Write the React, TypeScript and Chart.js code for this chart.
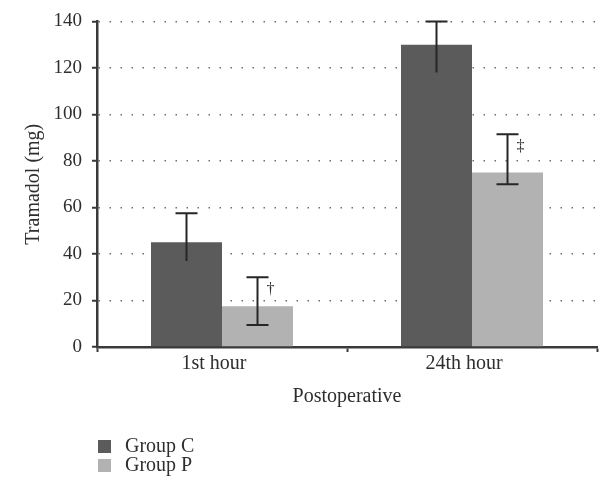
import React, { useEffect, useRef } from 'react';
import { Chart, registerables } from 'chart.js';

Chart.register(...registerables);

// Postoperative tramadol consumption (mg), mean with error range
const categories = ['1st hour', '24th hour'];
const groupC = [45, 130];
const groupCLow = [37, 118];
const groupCHigh = [57.5, 140];
const groupP = [17.5, 75];
const groupPLow = [9.5, 70];
const groupPHigh = [30, 91.5];
const groupPMarks = ['†', '‡'];
const yMin = 0;
const yMax = 140;
const yStep = 20;

const SERIF = '"Liberation Serif", "DejaVu Serif", serif';
const INK = '#2e2e2e';
const AXIS = '#3a3a3a';
const DARK = '#5b5b5b';
const LIGHT = '#b2b2b2';

const errorSpec = [
  { low: groupCLow, high: groupCHigh, lowerCap: false, marks: null as string[] | null },
  { low: groupPLow, high: groupPHigh, lowerCap: true, marks: groupPMarks },
];

const errorBarsPlugin = {
  id: 'errorBars',
  afterDatasetsDraw(chart: any) {
    const ctx = chart.ctx;
    const y = chart.scales.y;
    const capHalf = 11;
    errorSpec.forEach((spec, di) => {
      const meta = chart.getDatasetMeta(di);
      meta.data.forEach((bar: any, i: number) => {
        const x = bar.x;
        const yl = y.getPixelForValue(spec.low[i]);
        const yh = y.getPixelForValue(spec.high[i]);
        ctx.save();
        ctx.strokeStyle = '#262626';
        ctx.lineWidth = 2;
        ctx.beginPath();
        ctx.moveTo(x, yl);
        ctx.lineTo(x, yh);
        ctx.moveTo(x - capHalf, yh);
        ctx.lineTo(x + capHalf, yh);
        if (spec.lowerCap) {
          ctx.moveTo(x - capHalf, yl);
          ctx.lineTo(x + capHalf, yl);
        }
        ctx.stroke();
        if (spec.marks) {
          ctx.fillStyle = INK;
          ctx.font = `16px ${SERIF}`;
          ctx.textAlign = 'left';
          ctx.textBaseline = 'middle';
          ctx.fillText(spec.marks[i], x + 9, y.getPixelForValue(spec.high[i] - 5.5));
        }
        ctx.restore();
      });
    });
  },
};

const legendPlugin = {
  id: 'sideLegend',
  afterDraw(chart: any) {
    const ctx = chart.ctx;
    const items = [
      { label: 'Group C', color: DARK },
      { label: 'Group P', color: LIGHT },
    ];
    ctx.save();
    ctx.font = `20px ${SERIF}`;
    ctx.textAlign = 'left';
    ctx.textBaseline = 'middle';
    items.forEach((it, i) => {
      const top = 440 + i * 19;
      ctx.fillStyle = it.color;
      ctx.fillRect(98, top, 13, 13);
      ctx.fillStyle = INK;
      ctx.fillText(it.label, 125, top + 7);
    });
    ctx.restore();
  },
};

export default function App() {
  const canvasRef = useRef<HTMLCanvasElement | null>(null);

  useEffect(() => {
    const canvas = canvasRef.current;
    if (!canvas) return;
    const chart = new Chart(canvas, {
      type: 'bar',
      data: {
        labels: categories,
        datasets: [
          {
            label: 'Group C',
            data: groupC,
            backgroundColor: DARK,
            borderWidth: 0,
            categoryPercentage: 0.568,
            barPercentage: 1,
          },
          {
            label: 'Group P',
            data: groupP,
            backgroundColor: LIGHT,
            borderWidth: 0,
            categoryPercentage: 0.568,
            barPercentage: 1,
          },
        ],
      },
      options: {
        animation: false,
        responsive: true,
        maintainAspectRatio: false,
        layout: { padding: { left: 0, top: 17, right: 14, bottom: 0 } },
        plugins: {
          legend: { display: false },
          tooltip: { enabled: false },
        },
        scales: {
          x: {
            offset: true,
            grid: {
              offset: true,
              drawOnChartArea: false,
              drawTicks: true,
              tickLength: 5,
              tickColor: AXIS,
              tickWidth: 2,
            },
            border: { display: true, color: AXIS, width: 2.5 },
            ticks: {
              color: INK,
              padding: 0,
              labelOffset: -8,
              font: { family: SERIF, size: 20 },
            },
            title: {
              display: true,
              text: 'Postoperative',
              color: INK,
              font: { family: SERIF, size: 20 },
              padding: { top: 0, bottom: 71 },
            },
            afterFit: (scale: any) => {
              scale.height = 133;
            },
          },
          y: {
            min: yMin,
            max: yMax,
            grid: {
              color: (c: any) => (c.tick && c.tick.value === 0 ? 'rgba(0,0,0,0)' : '#6e6e6e'),
              lineWidth: 1.5,
              drawTicks: true,
              tickLength: 5,
              tickColor: AXIS,
              tickWidth: 2,
              tickBorderDash: [],
            },
            border: { display: true, color: AXIS, width: 2.5, dash: [1.5, 9.5] },
            ticks: {
              stepSize: yStep,
              color: INK,
              padding: 10,
              font: { family: SERIF, size: 19 },
            },
            title: {
              display: true,
              text: 'Tramadol (mg)',
              color: INK,
              font: { family: SERIF, size: 20 },
              padding: { top: 22, bottom: 0 },
            },
            afterFit: (scale: any) => {
              scale.width = 97;
            },
          },
        },
      },
      plugins: [errorBarsPlugin, legendPlugin],
    });
    return () => chart.destroy();
  }, []);

  return (
    <div style={{ position: 'fixed', left: 0, top: 0, width: 611, height: 480, background: '#ffffff' }}>
      <canvas ref={canvasRef} />
    </div>
  );
}
